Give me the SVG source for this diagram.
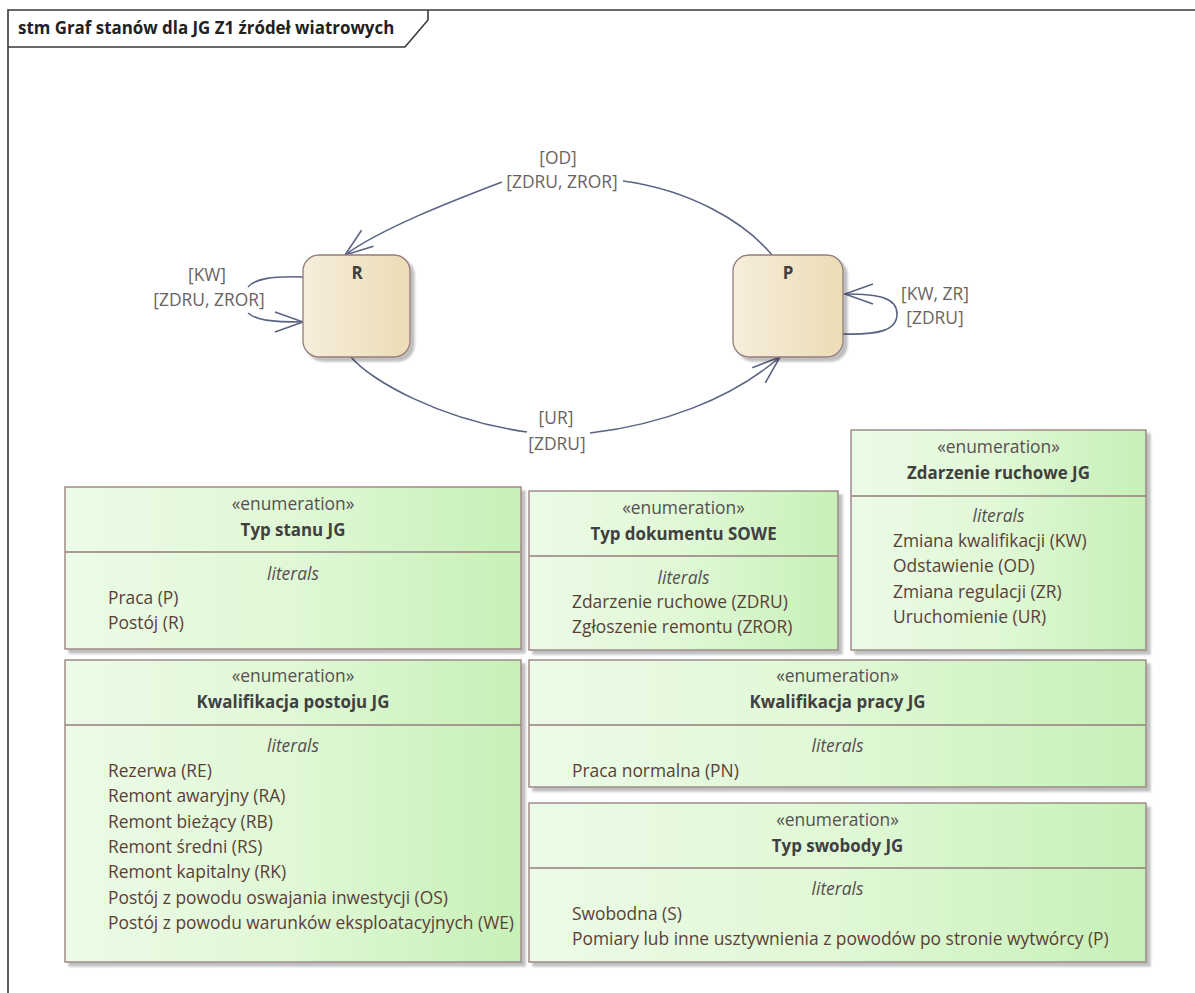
<svg xmlns="http://www.w3.org/2000/svg" width="1195" height="993" viewBox="0 0 1195 993">
  <style>
    .t { font-family: "Open Sans", "Liberation Sans", sans-serif; font-size: 17.4px; }
    .b { font-family: "Open Sans", "Liberation Sans", sans-serif; font-size: 16.9px; font-weight: bold; }
    .ttl { fill: #222222; }
    .c { text-anchor: middle; }
    .ster { fill: #555050; }
    .name { fill: #404040; }
    .lit { fill: #555050; font-style: italic; }
    .item { fill: #5a3f37; }
    .elab { fill: #6a6262; }
    .box { fill: url(#gGreen); stroke: #947c7c; stroke-width: 1.3; filter: url(#sh); }
    .div { stroke: #947c7c; stroke-width: 1.3; fill: none; }
    .state { fill: url(#gState); stroke: #947c7c; stroke-width: 1.3; filter: url(#sh); }
    .edge { fill: none; stroke: #5a6482; stroke-width: 1.6; marker-end: url(#arr); }
    .frame { fill: none; stroke: #3a3a3a; stroke-width: 1.6; }
  </style>
  <defs>
    <linearGradient id="gGreen" x1="0" y1="0" x2="1" y2="0">
      <stop offset="0" stop-color="#ecfbe7"/>
      <stop offset="0.5" stop-color="#e0f8d6"/>
      <stop offset="1" stop-color="#c7f0b7"/>
    </linearGradient>
    <linearGradient id="gState" x1="0" y1="0" x2="1" y2="0">
      <stop offset="0" stop-color="#f6eedc"/>
      <stop offset="1" stop-color="#ecdcb6"/>
    </linearGradient>
    <filter id="sh" x="-5%" y="-5%" width="115%" height="115%">
      <feDropShadow dx="4" dy="4" stdDeviation="1.2" flood-color="#000000" flood-opacity="0.25"/>
    </filter>
    <marker id="arr" markerUnits="userSpaceOnUse" markerWidth="34" markerHeight="26" viewBox="0 0 34 26" refX="31" refY="13" orient="auto">
      <path d="M3,3 L31,13 L3,23" fill="none" stroke="#5a6482" stroke-width="1.6"/>
    </marker>
  </defs>

  <rect x="0" y="0" width="1195" height="993" fill="#ffffff"/>

  <g id="frame">
    <path class="frame" d="M8,993 L8,10 L1195,10"/>
    <path class="frame" d="M8,47 L405,47 L428,20 L428,10"/>
    <text class="b ttl" x="18" y="34">stm Graf stanów dla JG Z1 źródeł wiatrowych</text>
  </g>

  <g id="connectors">
    <path id="e-P-R-OD" class="edge" d="M772,255 C745,222 690,190 623,181 M502,182 C452,201 380,229 345,255"/>
    <path id="e-R-P-UR" class="edge" d="M351,357 C370,380 440,420 527,432 M590,433 C660,425 730,400 780,357"/>
    <path id="e-R-R-KW" class="edge" d="M303,277 C270,276 255,279 248,287 M248,313 C256,320 270,322 303,322"/>
    <path id="e-P-P-KW" class="edge" d="M843,334 C880,335 897,330 897,314 C897,298 880,294 845,294"/>
    <g id="connector-labels">
      <text class="t elab c" x="558" y="164">[OD]</text>
      <text class="t elab c" x="562" y="188">[ZDRU, ZROR]</text>
      <text class="t elab c" x="556" y="424">[UR]</text>
      <text class="t elab c" x="557" y="450">[ZDRU]</text>
      <text class="t elab c" x="207" y="281">[KW]</text>
      <text class="t elab c" x="209" y="306">[ZDRU, ZROR]</text>
      <text class="t elab c" x="935" y="300">[KW, ZR]</text>
      <text class="t elab c" x="935" y="324">[ZDRU]</text>
    </g>
  </g>

  <g id="state-R">
    <rect class="state" x="303" y="255" width="107" height="102" rx="16" ry="16"/>
    <text class="b name c" x="357" y="279">R</text>
  </g>
  <g id="state-P">
    <rect class="state" x="733" y="255" width="110" height="102" rx="16" ry="16"/>
    <text class="b name c" x="788" y="279">P</text>
  </g>

  <g id="enum-typ-stanu-jg">
    <rect class="box" x="65" y="487" width="456" height="162"/>
    <line class="div" x1="65" y1="552" x2="521" y2="552"/>
    <text class="t ster c" x="293" y="510">«enumeration»</text>
    <text class="b name c" x="293" y="536">Typ stanu JG</text>
    <text class="t lit c" x="293" y="580">literals</text>
    <text class="t item" x="108" y="604">Praca (P)</text>
    <text class="t item" x="108" y="629">Postój (R)</text>
  </g>

  <g id="enum-typ-dokumentu-sowe">
    <rect class="box" x="529" y="491" width="309" height="159"/>
    <line class="div" x1="529" y1="556" x2="838" y2="556"/>
    <text class="t ster c" x="683.5" y="514">«enumeration»</text>
    <text class="b name c" x="683.5" y="540">Typ dokumentu SOWE</text>
    <text class="t lit c" x="683.5" y="584">literals</text>
    <text class="t item" x="572" y="608">Zdarzenie ruchowe (ZDRU)</text>
    <text class="t item" x="572" y="633">Zgłoszenie remontu (ZROR)</text>
  </g>

  <g id="enum-zdarzenie-ruchowe-jg">
    <rect class="box" x="851" y="430" width="295" height="220"/>
    <line class="div" x1="851" y1="496" x2="1146" y2="496"/>
    <text class="t ster c" x="998.5" y="453">«enumeration»</text>
    <text class="b name c" x="998.5" y="479">Zdarzenie ruchowe JG</text>
    <text class="t lit c" x="998.5" y="522">literals</text>
    <text class="t item" x="893" y="547">Zmiana kwalifikacji (KW)</text>
    <text class="t item" x="893" y="572">Odstawienie (OD)</text>
    <text class="t item" x="893" y="597.5">Zmiana regulacji (ZR)</text>
    <text class="t item" x="893" y="623">Uruchomienie (UR)</text>
  </g>

  <g id="enum-kwalifikacja-postoju-jg">
    <rect class="box" x="65" y="660" width="456" height="302"/>
    <line class="div" x1="65" y1="725" x2="521" y2="725"/>
    <text class="t ster c" x="293" y="682">«enumeration»</text>
    <text class="b name c" x="293" y="708">Kwalifikacja postoju JG</text>
    <text class="t lit c" x="293" y="752">literals</text>
    <text class="t item" x="108" y="777">Rezerwa (RE)</text>
    <text class="t item" x="108" y="802">Remont awaryjny (RA)</text>
    <text class="t item" x="108" y="827.5">Remont bieżący (RB)</text>
    <text class="t item" x="108" y="853">Remont średni (RS)</text>
    <text class="t item" x="108" y="878">Remont kapitalny (RK)</text>
    <text class="t item" x="108" y="903.5">Postój z powodu oswajania inwestycji (OS)</text>
    <text class="t item" x="108" y="929">Postój z powodu warunków eksploatacyjnych (WE)</text>
  </g>

  <g id="enum-kwalifikacja-pracy-jg">
    <rect class="box" x="529" y="660" width="617" height="127"/>
    <line class="div" x1="529" y1="725" x2="1146" y2="725"/>
    <text class="t ster c" x="837.5" y="682">«enumeration»</text>
    <text class="b name c" x="837.5" y="708">Kwalifikacja pracy JG</text>
    <text class="t lit c" x="837.5" y="752">literals</text>
    <text class="t item" x="572" y="777">Praca normalna (PN)</text>
  </g>

  <g id="enum-typ-swobody-jg">
    <rect class="box" x="529" y="803" width="617" height="159"/>
    <line class="div" x1="529" y1="868" x2="1146" y2="868"/>
    <text class="t ster c" x="837.5" y="825.5">«enumeration»</text>
    <text class="b name c" x="837.5" y="851.5">Typ swobody JG</text>
    <text class="t lit c" x="837.5" y="895">literals</text>
    <text class="t item" x="572" y="919.5">Swobodna (S)</text>
    <text class="t item" x="572" y="945">Pomiary lub inne usztywnienia z powodów po stronie wytwórcy (P)</text>
  </g>
</svg>
